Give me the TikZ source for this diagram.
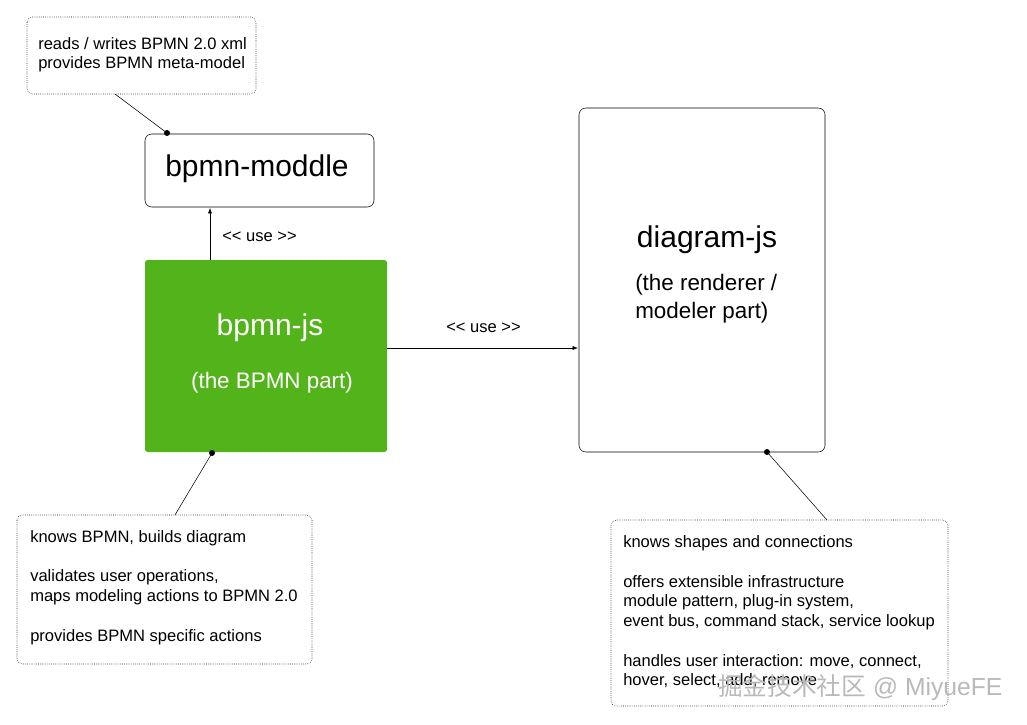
\documentclass[tikz,border=0pt]{standalone}
\usepackage{fontspec}
\setmainfont{Liberation Sans}
\newfontfamily\cjk{Noto Sans CJK SC}
\definecolor{bgreen}{HTML}{52B31A}
\usetikzlibrary{arrows.meta}
\begin{document}
\begin{tikzpicture}[x=0.75pt,y=-0.75pt,
  note/.style={draw,densely dotted,rounded corners=4pt},
  blk/.style={draw,rounded corners=5pt},
  small/.style={font=\fontsize{12.4}{15}\selectfont,anchor=west,inner sep=0},
  arr/.style={-{Latex[length=4pt,width=3pt]}},
  dotc/.style={circle,fill,inner sep=0,minimum size=4.5pt}]
\useasboundingbox (0,0) rectangle (1027,724);
% top note
\draw[note] (27,17) rectangle (256,94);
\node[small] at (38,44) {reads / writes BPMN 2.0 xml};
\node[small] at (38,64) {provides BPMN meta-model};
% bpmn-moddle
\draw[blk] (145,134) rectangle (374,207);
\node[font=\fontsize{22.5}{26}\selectfont] (mod) at (257,169) {bpmn-moddle};
\node[dotc] (d1) at (167,133) {};
\coordinate (c1) at (115,94);
\draw (c1) -- (d1.center);
% bpmn-js
\fill[bgreen,rounded corners=2pt] (145,260) rectangle (387,452);
\node[font=\fontsize{22.5}{26}\selectfont,text=white] (js) at (270,328) {bpmn-js};
\node[font=\fontsize{16.8}{20}\selectfont,text=white] at (272,383) {(the BPMN part)};
\coordinate (a1) at (210,260); \coordinate (a2) at (210,208);
\draw[arr] (a1) -- (a2);
\node[small] at (222,237) {{<}{<} use {>}{>}};
% diagram-js
\draw[blk] (579,108) rectangle (825,452);
\node[font=\fontsize{22.5}{26}\selectfont] (dj) at (707,240) {diagram-js};
\node[font=\fontsize{16.8}{20}\selectfont,anchor=west,inner sep=0] at (635,285) {(the renderer /};
\node[font=\fontsize{16.8}{20}\selectfont,anchor=west,inner sep=0] at (635,313) {modeler part)};
\coordinate (b1) at (387,348); \coordinate (b2) at (578,348);
\draw[arr] (b1) -- (b2);
\node[small] at (446,328) {{<}{<} use {>}{>}};
% bottom-left note
\node[dotc] (d2) at (212,453) {};
\coordinate (c2) at (175,515);
\draw (d2.center) -- (c2);
\draw[note] (17,515) rectangle (312,664);
\node[small] at (30,538) {knows BPMN, builds diagram};
\node[small] at (30,577) {validates user operations,};
\node[small] at (30,597) {maps modeling actions to BPMN 2.0};
\node[small] at (30,637) {provides BPMN specific actions};
% bottom-right note
\node[dotc] (d3) at (767,452) {};
\coordinate (c3) at (827,520);
\draw (d3.center) -- (c3);
\draw[note] (611,520) rectangle (948,706);
\node[small] at (623,543) {knows shapes and connections};
\node[small] at (623,582) {offers extensible infrastructure};
\node[small] at (623,602) {module pattern, plug-in system,};
\node[small] at (623,622) {event bus, command stack, service lookup};
\node[small] at (623,662) {handles user interaction: move, connect,};
\node[small] at (623,681) {hover, select, add, remove};
% watermark
\node[font=\fontsize{18.5}{22}\selectfont,text=gray!55,anchor=west,inner sep=0] at (718,688) {{\cjk 掘金技术社区} @ MiyueFE};
\end{tikzpicture}
\end{document}
